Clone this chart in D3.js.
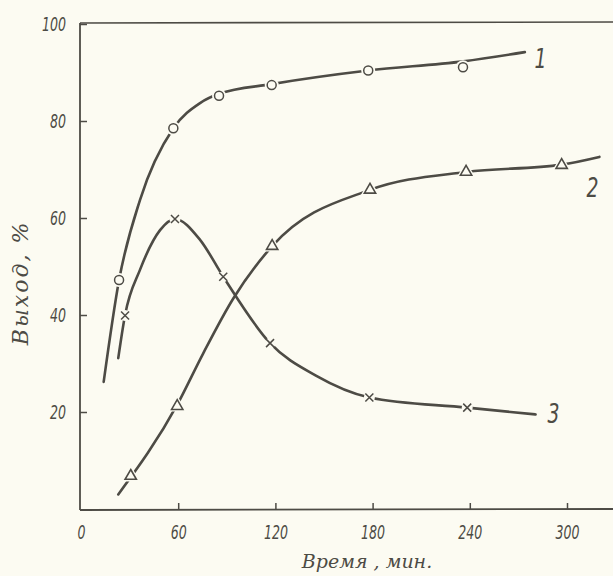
<!DOCTYPE html>
<html>
<head>
<meta charset="utf-8">
<script src="https://cdn.jsdelivr.net/npm/d3@7"></script>
<style>
  body { margin: 0; background: #fcfbf2; }
  svg { display: block; }
  .tick text { font-family: "DejaVu Sans", sans-serif; font-style: oblique; font-size: 20px; fill: #4d4b45; }
  .num { font-family: "DejaVu Sans", sans-serif; font-style: oblique; }
</style>
</head>
<body>
<div id="chart"></div>
<script>
// values (time in minutes, yield in %)
var xTicks = [0, 60, 120, 180, 240, 300];
var yTicks = [20, 40, 60, 80, 100];

// curve 1 (circles)
var curve1 = [[14, 26.2], [23.5, 47.2], [36.4, 63.7], [57, 78.5], [73.5, 83.7], [85.2, 85.6], [117.7, 87.6], [177.3, 90.4], [236, 92.3], [274, 94.2]];
var marks1 = [[23.5, 47.2], [57, 78.5], [85.2, 85.2], [117.7, 87.4], [177.3, 90.4], [235.8, 91.1]];

// curve 2 (triangles)
var curve2 = [[23, 3.0], [59.4, 21.5], [75.3, 32.0], [94, 43.4], [118, 54.2], [178.4, 65.8], [237.7, 69.5], [296.7, 71.0], [320, 72.6]];
var marks2 = [[30.7, 6.8], [59.4, 21.2], [118, 54.2], [178.4, 65.8], [237.7, 69.5], [296.7, 70.9]];

// curve 3 (crosses)
var curve3 = [[23, 31.1], [27.2, 40], [36.4, 49.3], [48.8, 57.5], [58, 59.8], [73.5, 55.5], [87.8, 47.9], [116.7, 34.2], [145, 27.5], [178, 23.0], [238.4, 20.9], [280.6, 19.5]];
var marks3 = [[27.2, 39.9], [58, 59.8], [87.8, 47.9], [116.7, 34.2], [178, 23.0], [238.4, 20.9]];

// curve numbers, placed at their baseline
var labels = [{t: "1", p: [280, 91]}, {t: "2", p: [312, 64.3]}, {t: "3", p: [288, 17.7]}];

var ink = "#4d4b45";
var bg = "#fcfbf2";
var width = 613, height = 576;

var svg = d3.select("#chart").append("svg")
    .attr("width", width)
    .attr("height", height);

svg.append("rect").attr("width", width).attr("height", height).attr("fill", bg);

var x = d3.scaleLinear().domain([0, 300]).range([81, 567]);
var y = d3.scaleLinear().domain([0, 100]).range([509, 24]);

// frame: left axis, top line, bottom axis (run off the right edge like the scan)
svg.append("line").attr("x1", 80).attr("x2", 80).attr("y1", y(100) - 1).attr("y2", y(0) + 1)
   .attr("stroke", ink).attr("stroke-width", 1.8);
svg.append("line").attr("x1", 80).attr("x2", width).attr("y1", y(100) - 1).attr("y2", y(100) - 2)
   .attr("stroke", ink).attr("stroke-width", 1.6);
svg.append("line").attr("x1", 80).attr("x2", width).attr("y1", y(0) + 1).attr("y2", y(0))
   .attr("stroke", ink).attr("stroke-width", 1.8);

var yAxis = svg.append("g").attr("transform", "translate(80,0)")
   .call(d3.axisLeft(y).tickValues(yTicks).tickSize(-7).tickPadding(14).tickFormat(d3.format("d")));
yAxis.select(".domain").remove();
yAxis.selectAll(".tick line").attr("stroke", ink).attr("stroke-width", 1.5);

var xAxis = svg.append("g").attr("transform", "translate(0," + (y(0) + 1) + ")")
   .call(d3.axisBottom(x).tickValues(xTicks).tickSize(-7).tickPadding(15).tickFormat(d3.format("d")));
xAxis.select(".domain").remove();
xAxis.selectAll(".tick line").attr("stroke", ink).attr("stroke-width", 1.5)
   .attr("opacity", function(d) { return d === 0 ? 0 : 1; });

// narrow, tall digits like the typeset originals
svg.selectAll(".tick text")
   .attr("textLength", function(d) { return String(d).length * 8; })
   .attr("lengthAdjust", "spacingAndGlyphs");

// curves
var line = d3.line()
    .x(function(d) { return x(d[0]); })
    .y(function(d) { return y(d[1]); })
    .curve(d3.curveMonotoneX);

[curve1, curve2, curve3].forEach(function(c) {
  svg.append("path").datum(c)
     .attr("d", line)
     .attr("fill", "none")
     .attr("stroke", ink)
     .attr("stroke-width", 2.6)
     .attr("stroke-linecap", "round");
});

// markers, with a paper-coloured halo so the line breaks around them
function circles(data) {
  data.forEach(function(d) {
    svg.append("circle").attr("cx", x(d[0])).attr("cy", y(d[1])).attr("r", 7).attr("fill", bg);
    svg.append("circle").attr("cx", x(d[0])).attr("cy", y(d[1])).attr("r", 4.5)
       .attr("fill", bg).attr("stroke", ink).attr("stroke-width", 1.5);
  });
}
function triangles(data) {
  var sym = d3.symbol().type(d3.symbolTriangle);
  data.forEach(function(d) {
    svg.append("path").attr("d", sym.size(150)()).attr("transform", "translate(" + x(d[0]) + "," + y(d[1]) + ")")
       .attr("fill", bg);
    svg.append("path").attr("d", sym.size(55)()).attr("transform", "translate(" + x(d[0]) + "," + y(d[1]) + ")")
       .attr("fill", bg).attr("stroke", ink).attr("stroke-width", 1.6);
  });
}
function crosses(data) {
  data.forEach(function(d) {
    var cx = x(d[0]), cy = y(d[1]);
    svg.append("circle").attr("cx", cx).attr("cy", cy).attr("r", 5.5).attr("fill", bg);
    svg.append("path").attr("d", "M" + (cx - 4) + "," + (cy - 4) + "L" + (cx + 4) + "," + (cy + 4) +
                                 "M" + (cx - 4) + "," + (cy + 4) + "L" + (cx + 4) + "," + (cy - 4))
       .attr("stroke", ink).attr("stroke-width", 1.5);
  });
}
circles(marks1);
triangles(marks2);
crosses(marks3);

// curve numbers
labels.forEach(function(l) {
  svg.append("text").attr("class", "num").attr("x", x(l.p[0])).attr("y", y(l.p[1]))
     .attr("font-size", 26).attr("fill", ink)
     .attr("textLength", 12).attr("lengthAdjust", "spacingAndGlyphs")
     .text(l.t);
});

// axis titles
svg.append("text").attr("x", (x(0) + width) / 2 + 20).attr("y", 568)
   .attr("text-anchor", "middle")
   .attr("font-family", "DejaVu Serif, serif").attr("font-style", "italic")
   .attr("font-size", 19).attr("fill", ink)
   .text("Время , мин.");

svg.append("text").attr("transform", "translate(28," + y(46.6) + ") rotate(-90)")
   .attr("text-anchor", "middle")
   .attr("font-family", "DejaVu Serif, serif").attr("font-style", "italic")
   .attr("font-size", 22).attr("letter-spacing", 2).attr("fill", ink)
   .text("Выход, %");
</script>
</body>
</html>
